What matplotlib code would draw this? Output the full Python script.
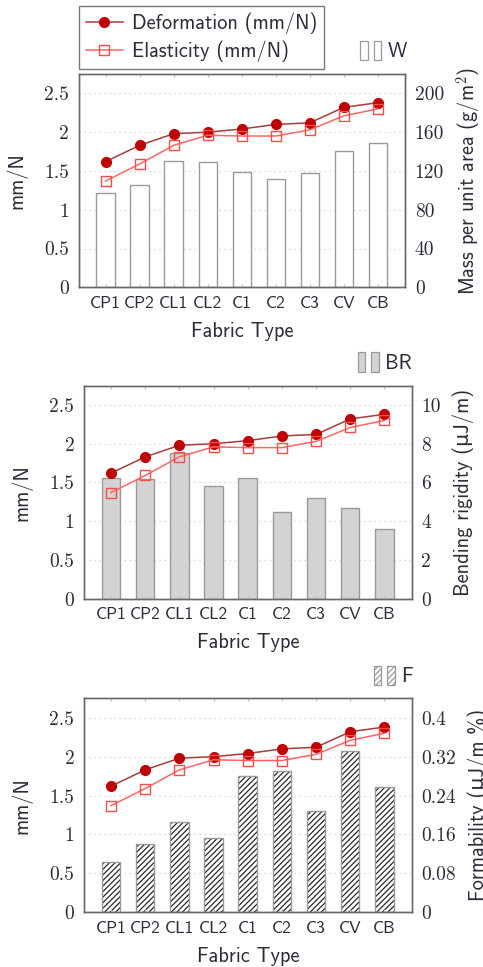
import os
import numpy as np
import matplotlib
matplotlib.use("Agg")
import matplotlib.pyplot as plt
from matplotlib.legend_handler import HandlerBase
from matplotlib.patches import Rectangle

# ---- data ----
fabrics = ["CP1", "CP2", "CL1", "CL2", "C1", "C2", "C3", "CV", "CB"]
deformation = [1.62, 1.83, 1.98, 2.00, 2.04, 2.10, 2.12, 2.32, 2.38]
elasticity = [1.37, 1.59, 1.83, 1.96, 1.95, 1.95, 2.03, 2.21, 2.30]
mass_w = [97, 105, 130, 129, 119, 112, 117.5, 140.5, 148.5]
bending_br = [6.25, 6.2, 7.53, 5.84, 6.24, 4.47, 5.21, 4.66, 3.61]
formability_f = [0.103, 0.141, 0.186, 0.152, 0.280, 0.291, 0.209, 0.332, 0.257]

left_ticks = [0, 0.5, 1, 1.5, 2, 2.5]
left_ticklabels = ["0", "0.5", "1", "1.5", "2", "2.5"]

SANS = ["cmss10", "DejaVu Sans"]
SERIF = ["cmr10", "DejaVu Serif"]
TXT = "#2b2b3a"
DEF_C = "#c00000"
ELA_C = "#ff4a4a"
FS = 14.7

plt.rcParams["font.family"] = SANS
plt.rcParams["mathtext.fontset"] = "cm"
plt.rcParams["hatch.linewidth"] = 0.9


class TwoBarHandler(HandlerBase):
    """pgfplots-style ybar legend image: two little bars side by side."""
    def __init__(self, fc, hatch=None, ec="#9a9a9a"):
        super().__init__()
        self.fc, self.hatch, self.ec = fc, hatch, ec

    def create_artists(self, legend, orig_handle, xdescent, ydescent,
                       width, height, fontsize, trans):
        h = height * 1.35
        y0 = -ydescent - 0.2 * height
        out = []
        for x0 in (0.0, 0.62):
            out.append(Rectangle((-xdescent + x0 * width, y0), width * 0.36, h,
                                 facecolor=self.fc, edgecolor=self.ec, hatch=self.hatch,
                                 lw=0.9, transform=trans))
        return out


fig = plt.figure(figsize=(4.83, 9.67), dpi=100)

# greek small mu (U+03BC): cmss10 has no glyph for it, so DejaVu Sans fills in
panels = [
    dict(rect=[0.163, 0.7029, 0.6756, 0.2206], vals=mass_w, rmax=220,
         rticks=[0, 40, 80, 120, 160, 200], rlabels=["0", "40", "80", "120", "160", "200"],
         rlabel="Mass per unit area (g/m$^2$)", rpad=8, name="W", fc="white", hatch=None,
         leg_anchor=(0.843, 0.9465)),
    dict(rect=[0.1739, 0.3809, 0.6785, 0.2203], vals=bending_br, rmax=11,
         rticks=[0, 2, 4, 6, 8, 10], rlabels=["0", "2", "4", "6", "8", "10"],
         rlabel="Bending rigidity (\u03bcJ/m)", rpad=8, name="BR", fc="#d3d3d3",
         hatch=None, leg_anchor=(0.853, 0.6243)),
    dict(rect=[0.1739, 0.0566, 0.6785, 0.2213], vals=formability_f, rmax=0.44,
         rticks=[0, 0.08, 0.16, 0.24, 0.32, 0.4],
         rlabels=["0", "0.08", "0.16", "0.24", "0.32", "0.4"],
         rlabel="Formability (\u03bcJ/m %)", rpad=8, name="F", fc="white",
         hatch="//////", leg_anchor=(0.855, 0.3002)),
]

x = np.arange(len(fabrics))
for i, p in enumerate(panels):
    ax = fig.add_axes(p["rect"])
    axr = ax.twinx()
    ax.set_zorder(axr.get_zorder() + 1)
    ax.patch.set_visible(False)

    # bars on the right-hand scale
    if p["hatch"]:
        axr.bar(x, p["vals"], width=0.54, color="white", edgecolor="#2a2a2a",
                hatch=p["hatch"], linewidth=0, zorder=2)
        bars = axr.bar(x, p["vals"], width=0.54, fill=False, edgecolor="#9a9a9a",
                       linewidth=1.0, zorder=3)
    else:
        bars = axr.bar(x, p["vals"], width=0.54, color=p["fc"], edgecolor="#9a9a9a",
                       linewidth=1.0, zorder=2)
    axr.set_ylim(0, p["rmax"])
    axr.set_yticks(p["rticks"])
    axr.set_yticklabels(p["rlabels"], fontfamily=SERIF, fontsize=14, color=TXT)
    axr.grid(axis="y", color="#cfcfcf", linestyle=(0, (1, 3)), linewidth=0.9)
    axr.set_axisbelow(True)
    axr.set_ylabel(p["rlabel"], fontsize=FS, color=TXT, labelpad=p["rpad"])
    axr.tick_params(axis="y", length=0, pad=7)

    # lines on the left-hand scale
    ax.plot(x, deformation, color="#a83c3c", lw=1.1, marker="o", ms=7,
            mfc=DEF_C, mec=DEF_C, label="Deformation (mm/N)", zorder=4)
    ax.plot(x, elasticity, color="#ff6666", lw=1.1, marker="s", ms=7,
            mfc="none", mec=ELA_C, mew=1.0, label="Elasticity (mm/N)", zorder=4)
    ax.set_ylim(0, 2.75)
    ax.set_xlim(-0.79, 8.8)
    ax.set_yticks(left_ticks)
    ax.set_yticklabels(left_ticklabels, fontfamily=SERIF, fontsize=14, color=TXT)
    ax.set_xticks(x)
    ax.set_xticklabels(fabrics, fontsize=12.5, color=TXT)
    ax.tick_params(axis="y", length=0, pad=7)
    ax.tick_params(axis="x", direction="in", top=True, length=2.5, color="#bbbbbb", pad=6)
    ax.set_ylabel("mm/N", fontsize=FS, color=TXT, labelpad=12)
    ax.set_xlabel("Fabric Type", fontsize=FS, color=TXT, labelpad=8)

    for a in (ax, axr):
        for s in a.spines.values():
            s.set_color("#6a6a6a")
            s.set_linewidth(1.0)

    fig.legend([bars], [p["name"]], loc="center right", bbox_to_anchor=p["leg_anchor"],
               frameon=False, fontsize=FS, handlelength=1.05, handletextpad=0.3,
               borderpad=0, borderaxespad=0, labelcolor=TXT,
               handler_map={bars: TwoBarHandler(p["fc"], p["hatch"])})

    if i == 0:
        h, l = ax.get_legend_handles_labels()
        fig.legend(h, l, loc="upper left", bbox_to_anchor=(0.163, 0.994),
                   fontsize=FS, fancybox=False, edgecolor="#7a7a7a",
                   framealpha=1, handlelength=1.8, handletextpad=0.45,
                   borderpad=0.35, borderaxespad=0, labelspacing=0.3,
                   labelcolor=TXT)

fig.savefig("out.png", dpi=100)
